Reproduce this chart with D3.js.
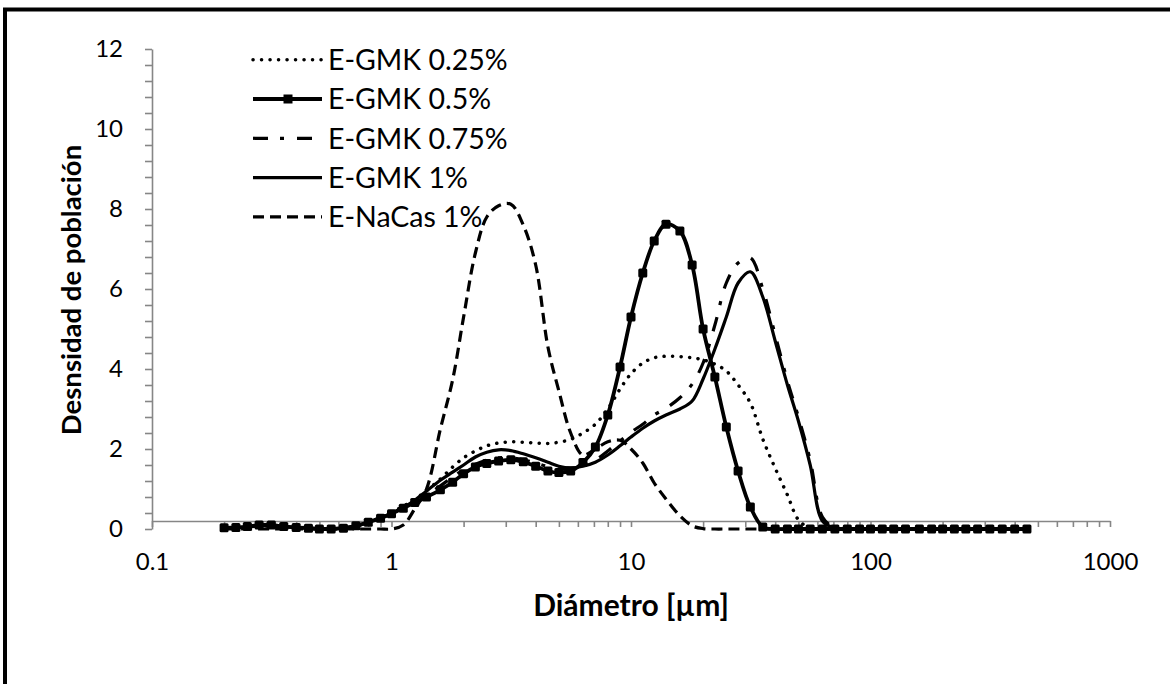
<!DOCTYPE html>
<html>
<head>
<meta charset="utf-8">
<script src="https://cdn.jsdelivr.net/npm/d3@7"></script>
<style>
  body { margin: 0; background: #fff; }
  text { font-family: Lato, "Open Sans", sans-serif; fill: #000; }
</style>
</head>
<body>
<div id="chart"></div>
<script>
// diameters in um, shared by all series
var diameters = [0.2, 0.224, 0.25, 0.28, 0.315, 0.355, 0.4, 0.45, 0.5, 0.56, 0.63, 0.71, 0.8, 0.9,
    1, 1.12, 1.25, 1.4, 1.6, 1.8, 2, 2.24, 2.5, 2.8, 3.15, 3.55, 4, 4.5, 5, 5.6, 6.3, 7.1, 8, 9,
    10, 11.2, 12.5, 14, 16, 18, 20, 22.4, 25, 28, 31.5, 35.5, 40, 45, 50, 56, 63, 71, 80, 90,
    100, 112, 125, 140, 160, 180, 200, 224, 250, 280, 315, 355, 400, 450];

var gmk025 = [0.02, 0.03, 0.05, 0.07, 0.07, 0.05, 0.03, 0.02, 0.01, 0.01, 0.03, 0.08, 0.17, 0.29,
    0.42, 0.57, 0.74, 0.96, 1.25, 1.55, 1.78, 1.95, 2.08, 2.15, 2.18, 2.17, 2.15, 2.14, 2.17, 2.24, 2.4, 2.62, 3.0, 3.5,
    3.88, 4.15, 4.28, 4.32, 4.31, 4.28, 4.23, 4.12, 3.95, 3.6, 3.15, 2.25, 1.52, 0.85, 0.23, 0.02, 0, 0, 0, 0,
    0, 0, 0, 0, 0, 0, 0, 0, 0, 0, 0, 0, 0, 0];

var gmk05 = [0.03, 0.04, 0.06, 0.1, 0.1, 0.06, 0.04, 0.02, 0, 0, 0.02, 0.08, 0.17, 0.27,
    0.38, 0.52, 0.66, 0.8, 0.98, 1.17, 1.38, 1.55, 1.64, 1.7, 1.73, 1.68, 1.57, 1.45, 1.41, 1.45, 1.66, 2.05, 2.85, 4.05,
    5.3, 6.4, 7.2, 7.62, 7.45, 6.6, 5.0, 3.8, 2.55, 1.45, 0.55, 0.05, 0, 0, 0, 0, 0, 0, 0, 0,
    0, 0, 0, 0, 0, 0, 0, 0, 0, 0, 0, 0, 0, 0];

var gmk075 = [0.03, 0.04, 0.05, 0.07, 0.07, 0.05, 0.03, 0.02, 0.01, 0.01, 0.03, 0.07, 0.16, 0.27,
    0.39, 0.53, 0.68, 0.85, 1.08, 1.3, 1.48, 1.62, 1.72, 1.78, 1.78, 1.73, 1.65, 1.56, 1.5, 1.5, 1.58, 1.72, 1.95, 2.2,
    2.42, 2.62, 2.85, 3.02, 3.28, 3.62, 4.15, 5.1, 6.15, 6.65, 6.78, 6.0, 4.85, 3.7, 2.8, 1.72, 0.3, 0.03, 0, 0,
    0, 0, 0, 0, 0, 0, 0, 0, 0, 0, 0, 0, 0, 0];

var gmk1 = [0.02, 0.03, 0.05, 0.08, 0.08, 0.06, 0.04, 0.02, 0.01, 0.01, 0.03, 0.08, 0.17, 0.28,
    0.4, 0.54, 0.72, 0.95, 1.22, 1.42, 1.6, 1.8, 1.92, 1.98, 1.96, 1.88, 1.78, 1.67, 1.57, 1.53, 1.57, 1.67, 1.85, 2.08,
    2.3, 2.52, 2.7, 2.85, 3.0, 3.2, 3.75, 4.5, 5.3, 6.15, 6.43, 5.8, 4.7, 3.6, 2.7, 1.6, 0.2, 0.02, 0, 0,
    0, 0, 0, 0, 0, 0, 0, 0, 0, 0, 0, 0, 0, 0];

var nacas1 = [0, 0, 0, 0, 0, 0, 0, 0, 0, 0, 0, 0, 0, 0,
    0, 0.1, 0.5, 1.0, 2.5, 3.73, 5.3, 6.9, 7.8, 8.08, 8.12, 7.6, 6.6, 4.55, 3.45, 2.4, 1.85, 2.0, 2.18, 2.22,
    2.0, 1.65, 1.15, 0.75, 0.33, 0.08, 0.01, 0, 0, 0, 0, 0, 0, 0, 0, 0, 0, 0, 0, 0,
    0, 0, 0, 0, 0, 0, 0, 0, 0, 0, 0, 0, 0, 0];

var seriesNames = ["E-GMK 0.25%", "E-GMK 0.5%", "E-GMK 0.75%", "E-GMK 1%", "E-NaCas 1%"];
var xTicks = [0.1, 1, 10, 100, 1000];
var yTicks = [0, 2, 4, 6, 8, 10, 12];
var xCross = 0.2; // horizontal axis crosses here

// set the dimensions and margins of the graph
var margin = {left: 152, top: 49};
var width = 1110 - margin.left,
    height = 529 - margin.top;

var svg = d3.select("#chart")
    .append("svg")
    .attr("width", 1170)
    .attr("height", 684);

// frame round the picture
svg.append("rect")
    .attr("x", 5).attr("y", 9.5)
    .attr("width", 1300).attr("height", 800)
    .attr("fill", "none")
    .attr("stroke", "#000")
    .attr("stroke-width", 4);

var g = svg.append("g")
    .attr("transform", `translate(${margin.left}, ${margin.top})`);

var x = d3.scaleLog().domain([0.1, 1000]).range([0, width]);
var y = d3.scaleLinear().domain([0, 12]).range([height, 0]);

var axisGrey = "#868686";
function styleAxis(a) {
    a.selectAll("path, line").attr("stroke", axisGrey).attr("stroke-width", 1.6);
    a.selectAll("text")
        .style("font-family", "Lato, 'Open Sans', sans-serif")
        .style("font-size", "24px")
        .attr("fill", "#000");
}

// y axis with minor ticks
g.append("g")
    .call(d3.axisLeft(y).tickValues(d3.range(0, 12.001, 0.4)).tickSize(7).tickSizeOuter(0).tickFormat(""))
    .call(styleAxis);
g.append("g")
    .call(d3.axisLeft(y).tickValues(yTicks).tickSize(0).tickPadding(29).tickFormat(d3.format("d")))
    .call(a => a.select(".domain").remove())
    .call(styleAxis);

// x axis (log) crossing at 0.2
g.append("g")
    .attr("transform", `translate(0, ${y(xCross)})`)
    .call(d3.axisBottom(x).tickValues(x.ticks()).tickSize(6).tickSizeOuter(0).tickFormat(""))
    .call(styleAxis);
g.append("g")
    .attr("transform", `translate(0, ${height})`)
    .call(d3.axisBottom(x).tickValues(xTicks).tickSize(0).tickPadding(24).tickFormat(d => d))
    .call(a => a.select(".domain").remove())
    .call(styleAxis);

// series
var series = [
    {name: seriesNames[0], values: gmk025, dash: "0.1 8.4", cap: "round", w: 3.5},
    {name: seriesNames[1], values: gmk05, dash: null, cap: "butt", w: 3.8, marker: true},
    {name: seriesNames[2], values: gmk075, dash: "15 12 4 13", cap: "butt", w: 3.2},
    {name: seriesNames[3], values: gmk1, dash: null, cap: "butt", w: 3.2},
    {name: seriesNames[4], values: nacas1, dash: "11 6", cap: "butt", w: 3.2}
];

var line = d3.line()
    .x((d, i) => x(diameters[i]))
    .y(d => y(d))
    .curve(d3.curveCatmullRom.alpha(0.5));

series.forEach(function(s) {
    g.append("path")
        .attr("d", line(s.values))
        .attr("fill", "none")
        .attr("stroke", "#000")
        .attr("stroke-width", s.w)
        .attr("stroke-linecap", s.cap)
        .attr("stroke-linejoin", "round")
        .attr("stroke-dasharray", s.dash);
    if (s.marker) {
        g.append("g").selectAll("rect")
            .data(s.values)
            .enter()
            .append("rect")
            .attr("x", (d, i) => x(diameters[i]) - 4.5)
            .attr("y", d => y(d) - 4.5)
            .attr("width", 9)
            .attr("height", 9)
            .attr("rx", 1.5)
            .attr("fill", "#000");
    }
});

// legend
var legend = svg.append("g");
series.forEach(function(s, i) {
    var ly = 59.7 + 39.3 * i;
    legend.append("line")
        .attr("x1", 253).attr("x2", 322)
        .attr("y1", ly).attr("y2", ly)
        .attr("stroke", "#000")
        .attr("stroke-width", s.w)
        .attr("stroke-linecap", s.cap)
        .attr("stroke-dasharray", s.dash);
    if (s.marker) {
        legend.append("rect")
            .attr("x", 283.5).attr("y", ly - 4.5)
            .attr("width", 9).attr("height", 9)
            .attr("fill", "#000");
    }
    legend.append("text")
        .attr("x", 328)
        .attr("y", ly)
        .attr("dy", "0.36em")
        .style("font-size", "28.5px")
        .text(s.name);
});

// axis titles
svg.append("text")
    .attr("transform", `translate(${margin.left + x(10)}, 616)`)
    .style("text-anchor", "middle")
    .style("font-size", "30px")
    .style("font-weight", "bold")
    .text("Diámetro [µm]");

svg.append("text")
    .attr("transform", `translate(81, 290) rotate(-90)`)
    .style("text-anchor", "middle")
    .style("font-size", "27.5px")
    .style("font-weight", "bold")
    .text("Desnsidad de población");
</script>
</body>
</html>
